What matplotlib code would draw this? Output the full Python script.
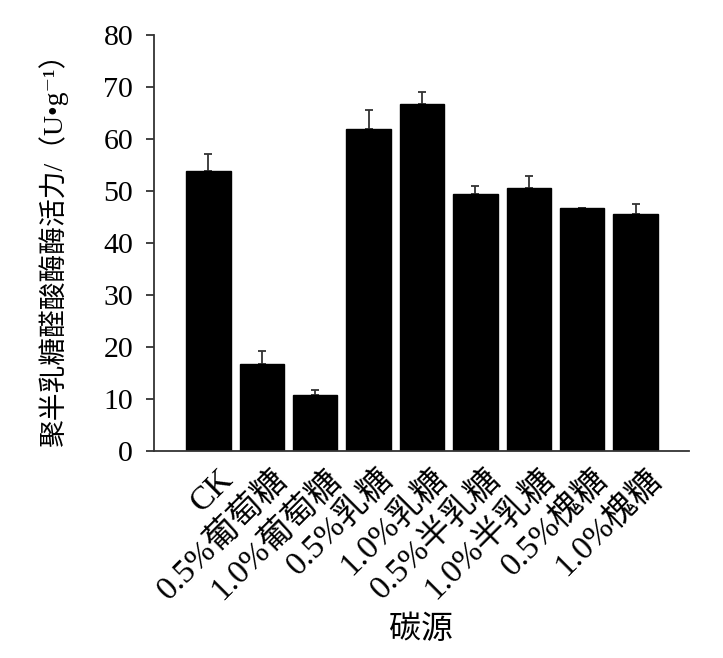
import matplotlib
matplotlib.use("Agg")
import matplotlib.pyplot as plt
from matplotlib.transforms import ScaledTranslation

plt.rcParams['font.family'] = ['Liberation Serif', 'DejaVu Serif', 'Noto Sans CJK SC']

categories = ["CK", "0.5%葡萄糖", "1.0%葡萄糖", "0.5%乳糖", "1.0%乳糖",
              "0.5%半乳糖", "1.0%半乳糖", "0.5%槐糖", "1.0%槐糖"]
values = [53.9, 16.8, 10.8, 62.0, 66.7, 49.4, 50.5, 46.8, 45.6]
errors = [3.2, 2.4, 1.0, 3.6, 2.4, 1.6, 2.4, 0.0, 1.9]
yticks = [0, 10, 20, 30, 40, 50, 60, 70, 80]

fig = plt.figure(figsize=(7.23, 6.58), dpi=100)
ax = fig.add_axes([154/723, 1 - 451/658, (689-154)/723, (451-35)/658])

x = list(range(len(categories)))
ax.bar(x, values, width=0.83, color='black', edgecolor='black', zorder=2)
ax.errorbar(x, values, yerr=[[0]*len(errors), errors], fmt='none',
            ecolor='#333333', elinewidth=1.3, capsize=3, capthick=1.3, zorder=1)

ax.set_xlim(-1.02, 9.0)
ax.set_ylim(0, 80)
ax.set_yticks(yticks)
ax.set_yticklabels([str(v) for v in yticks], fontsize=21.5)
ax.set_xticks(x)
ax.set_xticklabels(categories, rotation=45, ha='right', rotation_mode='anchor',
                   fontsize=24)
ax.tick_params(axis='x', length=0, pad=9)
ax.tick_params(axis='y', direction='out', length=6, width=1.3, color='#333333', pad=9)
offset = ScaledTranslation(7/72, 0, fig.dpi_scale_trans)
for lbl in ax.get_xticklabels():
    lbl.set_transform(lbl.get_transform() + offset)

for s in ['top', 'right']:
    ax.spines[s].set_visible(False)
for s in ['left', 'bottom']:
    ax.spines[s].set_linewidth(1.3)
    ax.spines[s].set_color('#333333')

ax.set_ylabel("聚半乳糖醛酸酶酶活力/（U•g⁻¹）", fontsize=20)
ax.yaxis.set_label_coords(-0.16, 0.5)
ax.set_xlabel("碳源", fontsize=23)
ax.xaxis.set_label_coords(0.5, -0.395)

fig.savefig("out.png", dpi=100)
